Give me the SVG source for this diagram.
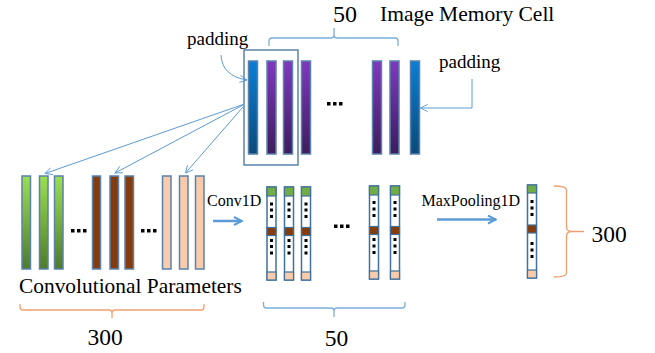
<svg xmlns="http://www.w3.org/2000/svg" width="655" height="353" viewBox="0 0 655 353">
  <defs>
    <linearGradient id="gBlue" x1="0" y1="0" x2="0" y2="1">
      <stop offset="0" stop-color="#0a7fd6"/>
      <stop offset="1" stop-color="#0c4a78"/>
    </linearGradient>
    <linearGradient id="gPurple" x1="0" y1="0" x2="0" y2="1">
      <stop offset="0" stop-color="#8038bf"/>
      <stop offset="1" stop-color="#3d1d5c"/>
    </linearGradient>
    <linearGradient id="gGreen" x1="0" y1="0" x2="0" y2="1">
      <stop offset="0" stop-color="#9ae052"/>
      <stop offset="1" stop-color="#4e7a2c"/>
    </linearGradient>
    <marker id="open" viewBox="0 0 10 10" refX="9" refY="5" markerWidth="9" markerHeight="9" orient="auto" markerUnits="userSpaceOnUse">
      <path d="M1,1 L9,5 L1,9" fill="none" stroke="#5b9bd5" stroke-width="1"/>
    </marker>
    <marker id="solid" viewBox="0 0 10 10" refX="9" refY="5" markerWidth="10" markerHeight="10" orient="auto" markerUnits="userSpaceOnUse">
      <path d="M1,1 L9,5 L1,9" fill="none" stroke="#5b9bd5" stroke-width="2"/>
    </marker>
  </defs>
  <style>
    .t { font-family: "Liberation Serif", "Times New Roman", serif; fill: #000; }
    .bar { stroke: #5a82ad; stroke-width: 1.5; }
    .col { fill: #fff; stroke: #41719c; stroke-width: 1.5; }
    .conn { fill: none; stroke: #5b9bd5; stroke-width: 1; }
    .thick { fill: none; stroke: #5b9bd5; stroke-width: 2.5; }
    .brO { fill: none; stroke: #f0a070; stroke-width: 1.3; }
    .brB { fill: none; stroke: #7aaedc; stroke-width: 1.3; }
    .dot { fill: #000; }
    .g { fill: #70ad47; stroke: #41719c; stroke-width: 1.2; }
    .b { fill: #843c0c; stroke: #41719c; stroke-width: 1.2; }
    .p { fill: #f8cbad; stroke: #41719c; stroke-width: 1.2; }
  </style>

  <!-- image memory cell -->
  <g id="memory">
    <rect x="244" y="50" width="54" height="115" fill="none" stroke="#41719c" stroke-width="1.3"/>
    <rect class="bar" x="248.5" y="61" width="9" height="93" fill="url(#gBlue)"/>
    <rect class="bar" x="267" y="61" width="9" height="93" fill="url(#gPurple)"/>
    <rect class="bar" x="283.5" y="61" width="9" height="93" fill="url(#gPurple)"/>
    <rect class="bar" x="301.5" y="61" width="9" height="93" fill="url(#gPurple)"/>
    <rect class="dot" x="327" y="102" width="3.5" height="3.5"/>
    <rect class="dot" x="333" y="102" width="3.5" height="3.5"/>
    <rect class="dot" x="339" y="102" width="3.5" height="3.5"/>
    <rect class="bar" x="372.5" y="61" width="9" height="93" fill="url(#gPurple)"/>
    <rect class="bar" x="390" y="61" width="9" height="93" fill="url(#gPurple)"/>
    <rect class="bar" x="410.5" y="61" width="9" height="93" fill="url(#gBlue)"/>
    <path class="brB" d="M269,46 V41 Q269,38 272,38 H331 Q334,38 334,35 V28 M334,35 Q334,38 337,38 H395 Q398,38 398,41 V46"/>
    <text class="t" x="345" y="22" font-size="24" text-anchor="middle">50</text>
    <text class="t" x="380" y="21" font-size="21.5">Image Memory Cell</text>
  </g>

  <!-- padding labels -->
  <g id="padding-left">
    <text class="t" x="187" y="45" font-size="19">padding</text>
  </g>
  <g id="padding-right">
    <text class="t" x="439" y="68" font-size="19">padding</text>
  </g>

  <!-- convolutional parameters -->
  <g id="params">
    <rect class="bar" x="22" y="176" width="8.5" height="93" fill="url(#gGreen)"/>
    <rect class="bar" x="39.5" y="176" width="8.5" height="93" fill="url(#gGreen)"/>
    <rect class="bar" x="54.5" y="176" width="8.5" height="93" fill="url(#gGreen)"/>
    <rect class="dot" x="71" y="229" width="3.5" height="3.5"/>
    <rect class="dot" x="77" y="229" width="3.5" height="3.5"/>
    <rect class="dot" x="83" y="229" width="3.5" height="3.5"/>
    <rect class="bar" x="92.5" y="176" width="8" height="93" fill="#843c0c"/>
    <rect class="bar" x="110" y="176" width="8.5" height="93" fill="#843c0c"/>
    <rect class="bar" x="125" y="176" width="8.5" height="93" fill="#843c0c"/>
    <rect class="dot" x="141" y="229" width="3.5" height="3.5"/>
    <rect class="dot" x="147" y="229" width="3.5" height="3.5"/>
    <rect class="dot" x="153" y="229" width="3.5" height="3.5"/>
    <rect class="bar" x="162.5" y="176" width="8.5" height="93" fill="#f8cbad"/>
    <rect class="bar" x="179.5" y="176" width="8.5" height="93" fill="#f8cbad"/>
    <rect class="bar" x="195.5" y="176" width="8.5" height="93" fill="#f8cbad"/>
    <text class="t" x="19" y="293" font-size="21.4">Convolutional Parameters</text>
    <path class="brO" d="M20,304 V307 Q20,310 23,310 H109 Q112,310 112,313 V318 M112,313 Q112,310 115,310 H201 Q204,310 204,307 V304"/>
    <text class="t" x="105" y="345" font-size="23.5" text-anchor="middle">300</text>
  </g>

  <!-- conv1d outputs -->
  <g id="conv-out">
    <g id="c1">
      <rect class="col" x="267" y="187" width="9" height="93"/>
      <rect class="g" x="267" y="187" width="9" height="9"/>
      <rect class="b" x="267" y="227.5" width="9" height="8"/>
      <rect class="p" x="267" y="272" width="9" height="8"/>
    </g>
    <g id="c2">
      <rect class="col" x="284.5" y="187" width="9" height="93"/>
      <rect class="g" x="284.5" y="187" width="9" height="9"/>
      <rect class="b" x="284.5" y="227.5" width="9" height="8"/>
      <rect class="p" x="284.5" y="272" width="9" height="8"/>
    </g>
    <g id="c3">
      <rect class="col" x="301.5" y="187" width="9" height="93"/>
      <rect class="g" x="301.5" y="187" width="9" height="9"/>
      <rect class="b" x="301.5" y="227.5" width="9" height="8"/>
      <rect class="p" x="301.5" y="272" width="9" height="8"/>
    </g>
    <g id="c4">
      <rect class="col" x="369.5" y="186" width="9" height="93"/>
      <rect class="g" x="369.5" y="186" width="9" height="9"/>
      <rect class="b" x="369.5" y="226.5" width="9" height="8"/>
      <rect class="p" x="369.5" y="271" width="9" height="8"/>
    </g>
    <g id="c5">
      <rect class="col" x="390.5" y="186" width="9" height="93"/>
      <rect class="g" x="390.5" y="186" width="9" height="9"/>
      <rect class="b" x="390.5" y="226.5" width="9" height="8"/>
      <rect class="p" x="390.5" y="271" width="9" height="8"/>
    </g>
    <g fill="#000">
      <rect x="270" y="202.5" width="3" height="3"/><rect x="270" y="208.5" width="3" height="3"/><rect x="270" y="215" width="3" height="3"/>
      <rect x="270" y="239" width="3" height="3"/><rect x="270" y="245" width="3" height="3"/><rect x="270" y="251.5" width="3" height="3"/>
      <rect x="287.5" y="202.5" width="3" height="3"/><rect x="287.5" y="208.5" width="3" height="3"/><rect x="287.5" y="215" width="3" height="3"/>
      <rect x="287.5" y="239" width="3" height="3"/><rect x="287.5" y="245" width="3" height="3"/><rect x="287.5" y="251.5" width="3" height="3"/>
      <rect x="304.5" y="202.5" width="3" height="3"/><rect x="304.5" y="208.5" width="3" height="3"/><rect x="304.5" y="215" width="3" height="3"/>
      <rect x="304.5" y="239" width="3" height="3"/><rect x="304.5" y="245" width="3" height="3"/><rect x="304.5" y="251.5" width="3" height="3"/>
      <rect x="372.5" y="201" width="3" height="3"/><rect x="372.5" y="207.5" width="3" height="3"/><rect x="372.5" y="214" width="3" height="3"/>
      <rect x="372.5" y="238" width="3" height="3"/><rect x="372.5" y="244.5" width="3" height="3"/><rect x="372.5" y="251" width="3" height="3"/>
      <rect x="393.5" y="201" width="3" height="3"/><rect x="393.5" y="207.5" width="3" height="3"/><rect x="393.5" y="214" width="3" height="3"/>
      <rect x="393.5" y="238" width="3" height="3"/><rect x="393.5" y="244.5" width="3" height="3"/><rect x="393.5" y="251" width="3" height="3"/>
      <rect x="334" y="224.5" width="3.5" height="3.5"/><rect x="340" y="224.5" width="3.5" height="3.5"/><rect x="346" y="224.5" width="3.5" height="3.5"/>
    </g>
    <path class="brB" d="M263.5,302 V305 Q263.5,308 266.5,308 H331 Q334,308 334,311 V317 M334,311 Q334,308 337,308 H402 Q405,308 405,305 V302"/>
    <text class="t" x="336.5" y="346" font-size="23.5" text-anchor="middle">50</text>
  </g>

  <!-- pooled output -->
  <g id="pooled">
    <rect class="col" x="527.5" y="185" width="9" height="93"/>
    <rect class="g" x="527.5" y="185" width="9" height="8"/>
    <rect class="b" x="527.5" y="225" width="9" height="8"/>
    <rect class="p" x="527.5" y="270" width="9" height="8"/>
    <g fill="#000">
      <rect x="530.5" y="200" width="3" height="3"/><rect x="530.5" y="206.5" width="3" height="3"/><rect x="530.5" y="213" width="3" height="3"/>
      <rect x="530.5" y="242" width="3" height="3"/><rect x="530.5" y="248.5" width="3" height="3"/><rect x="530.5" y="255" width="3" height="3"/>
    </g>
    <path class="brO" d="M554,186 Q566.5,186 566.5,190 V227 Q566.5,231.5 572,231.5 H584 M572,231.5 Q566.5,231.5 566.5,236 V273 Q566.5,277 554,277"/>
    <text class="t" x="591.5" y="242" font-size="23.5">300</text>
  </g>

  <!-- labels on operations -->
  <g id="op-labels">
    <text class="t" x="207" y="205.5" font-size="16">Conv1D</text>
    <text class="t" x="421.5" y="206" font-size="16">MaxPooling1D</text>
  </g>

  <!-- connectors -->
  <g id="connectors">
    <path class="conn" d="M243,104.5 L45,173.5" marker-end="url(#open)"/>
    <path class="conn" d="M243,105 L115,173" marker-end="url(#open)"/>
    <path class="conn" d="M243,107 L185.5,173" marker-end="url(#open)"/>
    <path class="conn" d="M221,55 Q222,76 247,80" marker-end="url(#open)"/>
    <path class="conn" d="M472,79 V108 H420.5" marker-end="url(#open)"/>
    <path class="thick" d="M213,221 H242" marker-end="url(#solid)"/>
    <path class="thick" d="M437,219.5 H496" marker-end="url(#solid)"/>
  </g>
</svg>
